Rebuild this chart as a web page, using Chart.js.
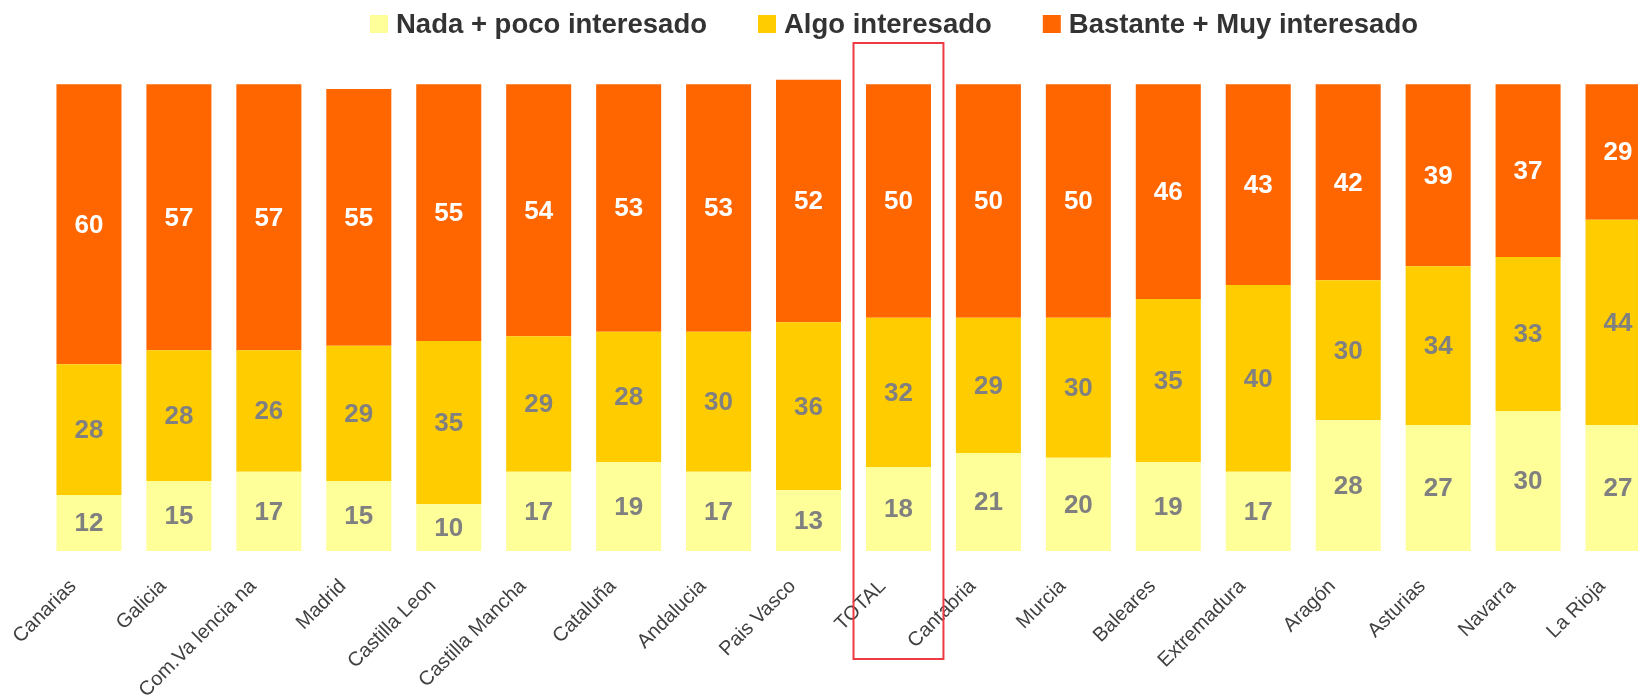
<!DOCTYPE html>
<html>
<head>
<meta charset="utf-8">
<script src="https://cdn.jsdelivr.net/npm/chart.js@4.4.1/dist/chart.umd.min.js"></script>
<style>
  html, body { margin: 0; padding: 0; background: #fff; overflow: hidden; }
  #wrap { width: 1670px; height: 700px; }
</style>
</head>
<body>
<div id="wrap"><canvas id="chart" width="1670" height="700"></canvas></div>
<script>
// ---- data ----
const regions = ['Canarias', 'Galicia', 'Com.Va lencia na', 'Madrid', 'Castilla Leon',
  'Castilla Mancha', 'Cataluña', 'Andalucia', 'Pais Vasco', 'TOTAL', 'Cantabria',
  'Murcia', 'Baleares', 'Extremadura', 'Aragón', 'Asturias', 'Navarra', 'La Rioja'];
const nadaPoco = [12, 15, 17, 15, 10, 17, 19, 17, 13, 18, 21, 20, 19, 17, 28, 27, 30, 27];
const algo = [28, 28, 26, 29, 35, 29, 28, 30, 36, 32, 29, 30, 35, 40, 30, 34, 33, 44];
const bastanteMuy = [60, 57, 57, 55, 55, 54, 53, 53, 52, 50, 50, 50, 46, 43, 42, 39, 37, 29];
const seriesNames = ['Nada + poco interesado', 'Algo interesado', 'Bastante + Muy interesado'];
const seriesColors = ['#FFFF99', '#FFCC00', '#FF6600'];
const labelColors = ['#808080', '#808080', '#FFFFFF'];
const highlighted = 'TOTAL';

const FONT = "'Liberation Sans', Arial, sans-serif";

/**
 * Writes the value of each segment in its middle
 */
const segmentLabels = {
  id: 'segmentLabels',
  afterDatasetsDraw(chart) {
    const ctx = chart.ctx;
    ctx.save();
    ctx.font = `bold 26px ${FONT}`;
    ctx.textAlign = 'center';
    ctx.textBaseline = 'middle';
    chart.data.datasets.forEach((ds, di) => {
      const meta = chart.getDatasetMeta(di);
      ctx.fillStyle = labelColors[di];
      meta.data.forEach((bar, i) => {
        const mid = (bar.y + bar.base) / 2;
        ctx.fillText(String(ds.data[i]), bar.x, mid + 1);
      });
    });
    ctx.restore();
  }
};

/**
 * Legend drawn by hand so it can sit off-centre like the original
 */
const topLegend = {
  id: 'topLegend',
  afterDraw(chart, args, opts) {
    const ctx = chart.ctx;
    ctx.save();
    ctx.font = `bold ${opts.fontSize}px ${FONT}`;
    const items = chart.data.datasets.map(ds => ({
      text: ds.label,
      color: ds.backgroundColor,
      w: opts.box + opts.boxGap + ctx.measureText(ds.label).width
    }));
    const total = items.reduce((s, it) => s + it.w, 0) + opts.itemGap * (items.length - 1);
    let x = opts.centerX - total / 2;
    items.forEach(it => {
      ctx.fillStyle = it.color;
      ctx.fillRect(x, opts.baseline - opts.box, opts.box, opts.box);
      ctx.fillStyle = '#333333';
      ctx.textBaseline = 'alphabetic';
      ctx.fillText(it.text, x + opts.box + opts.boxGap, opts.baseline);
      x += it.w + opts.itemGap;
    });
    ctx.restore();
  }
};

/**
 * Red frame around the TOTAL column
 */
const highlightBox = {
  id: 'highlightBox',
  afterDraw(chart) {
    const xs = chart.scales.x;
    const idx = chart.data.labels.indexOf(highlighted);
    if (idx < 0) return;
    const half = xs.width / chart.data.labels.length / 2;
    const cx = xs.getPixelForValue(idx);
    const area = chart.chartArea;
    const ctx = chart.ctx;
    ctx.save();
    ctx.strokeStyle = '#EE3A43';
    ctx.lineWidth = 2;
    ctx.strokeRect(cx - half, area.top - 32, half * 2, area.bottom - area.top + 140);
    ctx.restore();
  }
};

const datasets = [nadaPoco, algo, bastanteMuy].map((values, i) => ({
  label: seriesNames[i],
  data: values,
  backgroundColor: seriesColors[i],
  borderWidth: 0,
  categoryPercentage: 1,
  barPercentage: 0.723
}));

new Chart(document.getElementById('chart'), {
  type: 'bar',
  data: { labels: regions, datasets },
  options: {
    responsive: false,
    animation: false,
    layout: { padding: { left: 44, right: 7, top: 75, bottom: 0 } },
    scales: {
      x: {
        stacked: true,
        grid: { display: false, drawTicks: false },
        border: { display: false },
        ticks: {
          minRotation: 45,
          maxRotation: 45,
          autoSkip: false,
          padding: 8,
          color: '#404040',
          font: { family: FONT, size: 20 },
          // trailing spaces pull the rotated text down-left like the original
          callback: function(value) { return this.getLabelForValue(value) + '    '; }
        },
        afterFit: (axis) => { axis.height = 149; }
      },
      y: {
        stacked: true,
        display: false,
        min: 0,
        max: 102
      }
    },
    plugins: {
      legend: { display: false },
      tooltip: { enabled: false },
      topLegend: { fontSize: 27.5, box: 18, boxGap: 8, itemGap: 51, baseline: 33, centerX: 894 }
    }
  },
  plugins: [segmentLabels, topLegend, highlightBox]
});
</script>
</body>
</html>
